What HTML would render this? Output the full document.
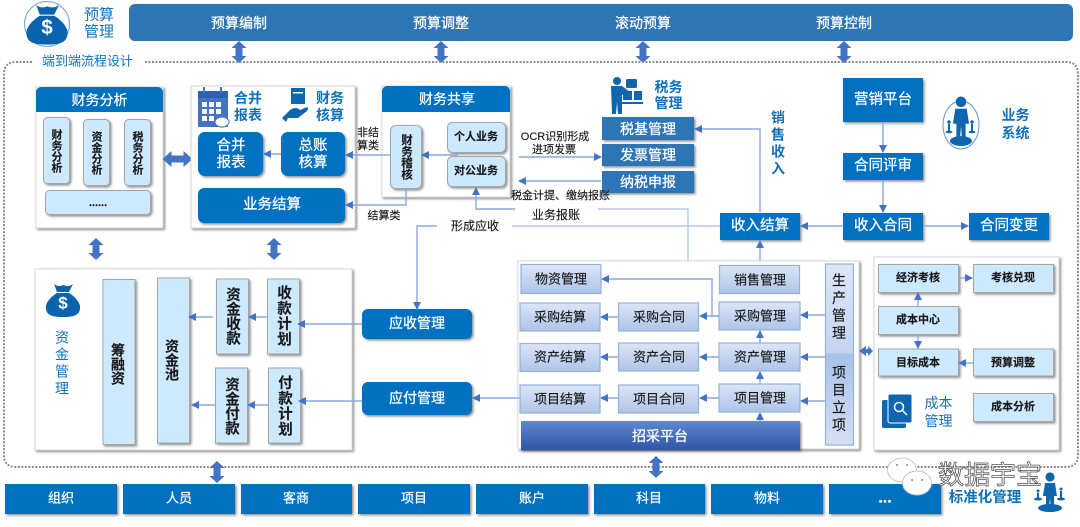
<!DOCTYPE html>
<html lang="zh"><head><meta charset="utf-8"><style>
html,body{margin:0;padding:0;background:#fff;width:1080px;height:527px;overflow:hidden}
svg{display:block}
text{font-family:"Liberation Sans","Noto Sans CJK SC",sans-serif;text-anchor:middle;dominant-baseline:central}
.w{fill:#fff;stroke:#fff;stroke-width:.25}.b{fill:#1a1a1a;stroke:#1a1a1a;stroke-width:.15}.c{fill:#0f71b9;font-weight:700}
.v{writing-mode:vertical-rl;dominant-baseline:auto}
.ln{stroke:#8aa8e0;stroke-width:1.4;fill:none;marker-end:url(#ar)}
.nl{stroke:#a6bce6;stroke-width:1.2;fill:none}
.lb{fill:#cce9ff;stroke:#a5a5a5;stroke-width:1}
.bl{fill:#0070c0}
.gr{fill:url(#g1);stroke:#93b2dc;stroke-width:1.2}
.wb{fill:#fff;stroke:#d8d8d8;stroke-width:1}
</style></head><body>
<svg width="1080" height="527" viewBox="0 0 1080 527" xmlns="http://www.w3.org/2000/svg">
<defs>
<marker id="ar" markerWidth="8" markerHeight="8" refX="7" refY="4" orient="auto" markerUnits="userSpaceOnUse"><path d="M0 0L8 4L0 8Z" fill="#4472c4"/></marker>
<linearGradient id="g1" x1="0" y1="0" x2="0" y2="1"><stop offset="0" stop-color="#dbe5f7"/><stop offset="1" stop-color="#aec4e8"/></linearGradient>
<linearGradient id="g2" x1="0" y1="0" x2="0" y2="1"><stop offset="0" stop-color="#5f88d0"/><stop offset="1" stop-color="#2f55a5"/></linearGradient>
<linearGradient id="g3" x1="0" y1="0" x2="0" y2="1"><stop offset="0" stop-color="#dce6f7"/><stop offset=".49" stop-color="#c4d4f0"/><stop offset=".5" stop-color="#a9c1e8"/><stop offset="1" stop-color="#d3dff5"/></linearGradient>
<filter id="s" x="-10%" y="-10%" width="125%" height="130%"><feDropShadow dx="1.5" dy="1.5" stdDeviation="1.2" flood-color="#000" flood-opacity=".45"/></filter>
<path id="dv" d="M0 -11L7.5 -4L3.5 -4L3.500 4L7.5 4L0 11L-7.5 4L-3.5 4L-3.5 -4L-7.5 -4Z" fill="#4472c4"/>
<path id="dh" d="M-15 0L-6 -8L-6 -3.5L6 -3.5L6 -8L15 0L6 8L6 3.5L-6 3.5L-6 8Z" fill="#4472c4"/>
<g id="bag"><path d="M-9 -15C-5 -12 -2 -13 0 -14C3 -13 6 -12 10 -15L6 -7L-6 -7Z M-6 -6L6 -6C14 -1 18 5 17 10C16 17 9 18 0 18C-9 18 -16 17 -17 10C-18 5 -14 -1 -6 -6Z" fill="#0a63ad"/><text y="4" font-size="17" font-weight="700" fill="#fff">$</text></g>
<g id="man"><circle cx="0" cy="-21" r="4.6" fill="#0f66ae"/><path d="M-5 -15L5 -15L7 -2L4 -2L4 13L1 13L0 0L-1 13L-4 13L-4 -2L-7 -2Z" fill="#0f66ae"/></g>
</defs>

<!-- top -->
<circle cx="47" cy="24" r="22.5" fill="#fff" stroke="#6fa6d6" stroke-width="1"/>
<use href="#bag" transform="translate(47 23) scale(1.2)"/>
<text x="99" y="15" font-size="15" class="c" style="font-weight:400">预算</text>
<text x="99" y="32" font-size="15" class="c" style="font-weight:400">管理</text>
<rect x="129" y="4" width="944" height="37" rx="6" fill="#2e75b6"/>
<text x="239" y="23" font-size="14" class="w">预算编制</text>
<text x="441" y="23" font-size="14" class="w">预算调整</text>
<text x="643" y="23" font-size="14" class="w">滚动预算</text>
<text x="844" y="23" font-size="14" class="w">预算控制</text>
<use href="#dv" x="239" y="52"/><use href="#dv" x="441" y="52"/><use href="#dv" x="643" y="52"/><use href="#dv" x="844" y="52"/>

<!-- dotted frame -->
<path d="M32 62L16 62Q4 62 4 74L4 455Q4 467 16 467L1066 467Q1078 467 1078 455L1078 74Q1078 62 1066 62L144 62" fill="none" stroke="#8c8c8c" stroke-width="2" stroke-dasharray="2 1.5"/>
<text x="87.500" y="61" font-size="13" class="c" style="font-weight:400">端到端流程设计</text>

<!-- 财务分析 -->
<rect x="36" y="87" width="127" height="141" class="wb" filter="url(#s)"/>
<path d="M36 112L36 93Q36 87 42 87L157 87Q163 87 163 93L163 112Z" class="bl"/>
<text x="99.500" y="100" font-size="14" class="w">财务分析</text>
<rect x="43.500" y="117.500" width="26" height="66" rx="4" class="lb" filter="url(#s)"/>
<rect x="83.500" y="119.500" width="26" height="66" rx="4" class="lb" filter="url(#s)"/>
<rect x="124.500" y="119.500" width="26" height="66" rx="4" class="lb" filter="url(#s)"/>
<rect x="45.500" y="190.500" width="105" height="24" rx="4" class="lb" filter="url(#s)"/>
<text x="56" y="151" font-size="11" class="b v" style="font-weight:700">财务分析</text>
<text x="96" y="153" font-size="11" class="b v" style="font-weight:700">资金分析</text>
<text x="137" y="153" font-size="11" class="b v" style="font-weight:700">税务分析</text>
<text x="98" y="203" font-size="11" class="b" style="font-weight:700">......</text>
<use href="#dh" x="177.500" y="159"/>
<use href="#dv" x="96" y="249"/>

<!-- 合并 box -->
<rect x="191" y="86" width="164" height="142" class="wb" filter="url(#s)"/>
<rect x="198" y="91" width="30" height="36" fill="#4472c4"/>
<rect x="198" y="91" width="30" height="7" fill="#2f5fb0"/>
<g fill="#fff"><rect x="202" y="102" width="5" height="5"/><rect x="209" y="102" width="5" height="5"/><rect x="216" y="102" width="5" height="5"/><rect x="202" y="109" width="5" height="5"/><rect x="209" y="109" width="5" height="5"/><rect x="216" y="109" width="5" height="5"/><rect x="202" y="116" width="5" height="5"/><rect x="209" y="116" width="5" height="5"/></g>
<rect x="203" y="87" width="2" height="6" fill="#4472c4"/><rect x="220" y="87" width="2" height="6" fill="#4472c4"/>
<ellipse cx="222" cy="122" rx="7" ry="5" fill="#fff" stroke="#4472c4"/>
<text x="248" y="98" font-size="14" class="c">合并</text>
<text x="248" y="115" font-size="14" class="c">报表</text>
<rect x="291" y="88" width="14" height="16" fill="#0f66ae"/><rect x="293" y="92" width="10" height="1.500" fill="#fff"/>
<path d="M282 118L290 110Q296 106 300 110L307 107Q309 108 307 111L298 118L288 118L286 122Z" fill="#0f66ae"/>
<text x="330" y="98" font-size="14" class="c">财务</text>
<text x="330" y="115" font-size="14" class="c">核算</text>
<rect x="198" y="132" width="65" height="44" rx="7" class="bl" filter="url(#s)"/>
<rect x="281" y="132" width="64" height="44" rx="7" class="bl" filter="url(#s)"/>
<rect x="198" y="188" width="147" height="35" rx="6" class="bl" filter="url(#s)"/>
<text x="231" y="146" font-size="14.500" class="w">合并</text><text x="231" y="163" font-size="14.500" class="w">报表</text>
<text x="313" y="146" font-size="14.500" class="w">总账</text><text x="313" y="163" font-size="14.500" class="w">核算</text>
<text x="272" y="205" font-size="14.500" class="w">业务结算</text>
<path d="M281 154L264 154" class="ln"/>
<use href="#dv" x="274" y="249"/>

<!-- 财务共享 -->
<rect x="382" y="86" width="128" height="111" class="wb" filter="url(#s)"/>
<path d="M382 112L382 92Q382 86 388 86L504 86Q510 86 510 92L510 112Z" class="bl"/>
<text x="447" y="99" font-size="14" class="w">财务共享</text>
<rect x="390.500" y="125.500" width="31" height="63" rx="5" class="lb" filter="url(#s)"/>
<rect x="447.500" y="122.500" width="58" height="30" rx="5" class="lb" filter="url(#s)"/>
<rect x="447.500" y="156.500" width="58" height="30" rx="5" class="lb" filter="url(#s)"/>
<text x="406" y="157" font-size="11.500" class="b v" style="font-weight:700">财务稽核</text>
<text x="476" y="137" font-size="11" class="b" style="font-weight:700">个人业务</text>
<text x="476" y="171" font-size="11" class="b" style="font-weight:700">对公业务</text>
<path d="M458 155L422 155" class="ln"/>
<path d="M390 155L346 155" class="ln"/>
<path d="M406 189L406 205L346 205" class="ln"/>
<text x="368" y="133" font-size="11" class="b">非结</text><text x="368" y="146" font-size="11" class="b">算类</text>
<text x="384" y="216" font-size="11" class="b">结算类</text>

<!-- 税务 -->
<circle cx="617" cy="81" r="4" fill="#0f66ae"/>
<path d="M611 86L622 86L630 92L622 95L622 114L618 114L617 102L616 114L612 114Z" fill="#0f66ae"/>
<rect x="626" y="79" width="11" height="9" rx="1.500" fill="#0f66ae"/><rect x="623" y="91" width="9" height="9" fill="#0f66ae"/><rect x="634" y="91" width="8" height="9" fill="#0f66ae"/><rect x="622" y="102" width="21" height="2" fill="#0f66ae"/>
<text x="668.500" y="87" font-size="14" class="c">税务</text><text x="668.500" y="103" font-size="14" class="c">管理</text>
<rect x="602" y="117" width="92" height="23" fill="#2e75b6" filter="url(#s)"/>
<rect x="602" y="144" width="92" height="22" fill="#2e75b6" filter="url(#s)"/>
<rect x="602" y="171" width="92" height="22" fill="#2e75b6" filter="url(#s)"/>
<text x="648" y="129" font-size="14" class="w">税基管理</text>
<text x="648" y="155" font-size="14" class="w">发票管理</text>
<text x="648" y="182" font-size="14" class="w">纳税申报</text>
<text x="555" y="137" font-size="11" class="b">OCR识别形成</text>
<text x="554" y="150" font-size="11" class="b">进项发票</text>
<path d="M519 157L601 157" class="ln"/>
<path d="M601 181L519 181" class="ln"/>
<text x="560.500" y="196" font-size="11" class="b">税金计提、缴纳报账</text>
<path d="M515 209L476 209L476 188" class="ln"/>
<path d="M598 209L688 209L688 262" class="nl"/>
<text x="556" y="215" font-size="12" class="b">业务报账</text>
<path d="M437 226L417 226L417 309" class="ln"/>
<path d="M512 226L720 226" class="nl"/>
<text x="475" y="226" font-size="12" class="b">形成应收</text>

<!-- sales -->
<path d="M760 212L760 129L695 129" class="ln"/>
<text x="778" y="110" font-size="14" class="c v" style="text-anchor:start;letter-spacing:3px">销售收入</text>
<rect x="843" y="78" width="80" height="44" class="bl" filter="url(#s)"/>
<rect x="843" y="153" width="80" height="27" class="bl" filter="url(#s)"/>
<rect x="843" y="213" width="80" height="27" class="bl" filter="url(#s)"/>
<rect x="720" y="213" width="80" height="27" class="bl" filter="url(#s)"/>
<rect x="969" y="213" width="80" height="27" class="bl" filter="url(#s)"/>
<text x="883" y="100" font-size="14.500" class="w">营销平台</text>
<text x="883" y="166" font-size="14.500" class="w">合同评审</text>
<text x="883" y="226" font-size="14.500" class="w">收入合同</text>
<text x="760" y="226" font-size="14.500" class="w">收入结算</text>
<text x="1009" y="226" font-size="14.500" class="w">合同变更</text>
<path d="M883 122L883 152" class="ln"/><path d="M883 180L883 212" class="ln"/>
<path d="M843 226L801 226" class="ln"/><path d="M923 226L968 226" class="ln"/>
<path d="M760 265L760 241" class="ln"/>
<ellipse cx="961" cy="125" rx="18" ry="24" fill="#fff" stroke="#5a9ad2"/>
<use href="#man" transform="translate(961 126) scale(1.15)"/>
<ellipse cx="961" cy="141" rx="11" ry="5" fill="#0f66ae"/>
<circle cx="949" cy="122" r="1.800" fill="#0f66ae"/><rect x="948" y="124" width="2" height="8" fill="#0f66ae"/><ellipse cx="949" cy="132" rx="3.500" ry="1.300" fill="#0f66ae"/>
<circle cx="972" cy="122" r="1.800" fill="#0f66ae"/><rect x="971" y="124" width="2" height="8" fill="#0f66ae"/><ellipse cx="972" cy="132" rx="3.500" ry="1.300" fill="#0f66ae"/>
<text x="1015.500" y="115" font-size="14" class="c">业务</text><text x="1015.500" y="133" font-size="14" class="c">系统</text>

<!-- 资金 -->
<rect x="35" y="269" width="317" height="181" class="wb" filter="url(#s)"/>
<use href="#bag" x="63" y="299"/>
<text x="62" y="330" font-size="14" class="c v" style="text-anchor:start;letter-spacing:3px;font-weight:400">资金管理</text>
<rect x="103" y="279.500" width="32" height="165" class="lb" filter="url(#s)"/>
<rect x="157.500" y="278" width="32" height="165" class="lb" filter="url(#s)"/>
<rect x="216.500" y="279" width="32" height="75" class="lb" filter="url(#s)"/>
<rect x="267.500" y="279" width="32" height="75" class="lb" filter="url(#s)"/>
<rect x="215.500" y="368" width="32" height="75" class="lb" filter="url(#s)"/>
<rect x="268.500" y="368" width="32" height="75" class="lb" filter="url(#s)"/>
<text x="118" y="364" font-size="14" class="b v" style="font-weight:700">筹融资</text>
<text x="172" y="360" font-size="14" class="b v" style="font-weight:700">资金池</text>
<text x="232" y="316" font-size="14.500" class="b v" style="font-weight:700">资金收款</text>
<text x="283" y="316" font-size="14.500" class="b v" style="font-weight:700;letter-spacing:1px">收款计划</text>
<text x="231" y="406" font-size="14.500" class="b v" style="font-weight:700">资金付款</text>
<text x="284" y="406" font-size="14.500" class="b v" style="font-weight:700;letter-spacing:1px">付款计划</text>
<path d="M213 317L189 317" class="ln"/><path d="M267 317L249 317" class="ln"/>
<path d="M362 324L298 324" class="ln"/>
<path d="M215 405L192 405" class="ln"/><path d="M268 405L248 405" class="ln"/>
<path d="M362 401L299 401" class="ln"/>
<rect x="362" y="309" width="110" height="30" rx="6" class="bl" filter="url(#s)"/>
<rect x="362" y="382" width="110" height="33" rx="6" class="bl" filter="url(#s)"/>
<text x="417" y="323" font-size="14" class="w">应收管理</text>
<text x="417" y="398" font-size="14" class="w">应付管理</text>

<!-- 采购 -->
<rect x="518" y="261" width="341" height="188" class="wb" filter="url(#s)"/>
<path d="M719 316L712 316L712 279L602 279" class="ln"/>
<path d="M719 316L700 316" class="ln"/><path d="M618 317L601 317" class="ln"/>
<path d="M719 357L700 357" class="ln"/><path d="M618 357L601 357" class="ln"/>
<path d="M719 398L700 398" class="ln"/><path d="M618 398L601 398" class="ln"/>
<path d="M760 343L760 331" class="ln"/><path d="M760 385L760 372" class="ln"/><path d="M760 421L760 413" class="ln"/>
<path d="M825 315L801 315" class="ln"/><path d="M825 357L801 357" class="ln"/><path d="M825 401L801 401" class="ln"/>
<path d="M520 398L473 398" class="ln"/>
<rect x="521" y="264.500" width="80" height="29" class="gr"/>
<rect x="719.500" y="265.500" width="80" height="28" class="gr"/>
<rect x="520" y="303" width="80" height="28" class="gr"/>
<rect x="618.500" y="303" width="80" height="28" class="gr"/>
<rect x="719" y="302" width="81" height="28" class="gr"/>
<rect x="520" y="343.500" width="80" height="28" class="gr"/>
<rect x="618.500" y="343" width="80" height="28" class="gr"/>
<rect x="719" y="343" width="81" height="28" class="gr"/>
<rect x="520" y="385" width="80" height="28" class="gr"/>
<rect x="618.500" y="385" width="80" height="28" class="gr"/>
<rect x="719" y="384" width="81" height="28" class="gr"/>
<text x="561" y="279" class="b" font-size="13">物资管理</text>
<text x="760" y="280" class="b" font-size="13">销售管理</text>
<text x="560" y="317" class="b" font-size="13">采购结算</text>
<text x="659" y="317" class="b" font-size="13">采购合同</text>
<text x="760" y="316" class="b" font-size="13">采购管理</text>
<text x="560" y="357" class="b" font-size="13">资产结算</text>
<text x="659" y="357" class="b" font-size="13">资产合同</text>
<text x="760" y="357" class="b" font-size="13">资产管理</text>
<text x="560" y="399" class="b" font-size="13">项目结算</text>
<text x="659" y="399" class="b" font-size="13">项目合同</text>
<text x="760" y="398" class="b" font-size="13">项目管理</text>
<rect x="521" y="421" width="279" height="29" fill="url(#g2)" filter="url(#s)"/>
<text x="660" y="436" font-size="14" class="w">招采平台</text>
<rect x="825.500" y="264" width="28" height="181" fill="url(#g3)" stroke="#93b2dc" stroke-width="1.200"/>
<text x="839" y="308" font-size="14" class="b v" style="letter-spacing:3.500px">生产管理</text>
<text x="839" y="400" font-size="14" class="b v" style="letter-spacing:3.500px">项目立项</text>

<!-- 成本 -->
<rect x="874" y="257" width="185" height="193" class="wb" filter="url(#s)"/>
<path d="M859 351L866 346L866 349L868 349L868 346L873 351L868 356L868 353L866 353L866 356Z" fill="#4472c4"/>
<rect x="878.500" y="264.500" width="80" height="28" class="lb" filter="url(#s)"/>
<rect x="973.500" y="264.500" width="80" height="28" class="lb" filter="url(#s)"/>
<rect x="878.500" y="306.500" width="80" height="28" class="lb" filter="url(#s)"/>
<rect x="878.500" y="349" width="80" height="27" class="lb" filter="url(#s)"/>
<rect x="973.500" y="349" width="80" height="27" class="lb" filter="url(#s)"/>
<rect x="973.500" y="393.500" width="80" height="28" class="lb" filter="url(#s)"/>
<text x="918" y="278" font-size="11" class="b" style="font-weight:700">经济考核</text>
<text x="1013" y="278" font-size="11" class="b" style="font-weight:700">考核兑现</text>
<text x="918" y="320" font-size="11" class="b" style="font-weight:700">成本中心</text>
<text x="918" y="363" font-size="11" class="b" style="font-weight:700">目标成本</text>
<text x="1013" y="363" font-size="11" class="b" style="font-weight:700">预算调整</text>
<text x="1013" y="407" font-size="11" class="b" style="font-weight:700">成本分析</text>
<path d="M958 278L972 278" class="ln"/><path d="M918 306L918 293" class="ln"/><path d="M918 335L918 348" class="ln"/><path d="M973 363L959 363" class="ln"/>
<rect x="882" y="400" width="24" height="28" rx="2" fill="#0f66ae"/>
<rect x="888" y="394" width="24" height="29" rx="2" fill="#0f66ae" stroke="#fff"/>
<circle cx="899" cy="407" r="4.500" fill="none" stroke="#fff" stroke-width="1.500"/><path d="M902 410L907 415" stroke="#fff" stroke-width="1.500"/>
<text x="938.500" y="403" font-size="14" class="c" style="font-weight:400">成本</text><text x="938.500" y="421" font-size="14" class="c" style="font-weight:400">管理</text>

<!-- bottom -->
<use href="#dv" x="217" y="472"/><use href="#dv" x="656" y="467"/>
<g fill="#0070c0" filter="url(#s)">
<rect x="5" y="484" width="112" height="30"/><rect x="123" y="484" width="112" height="30"/><rect x="241" y="484" width="111" height="30"/><rect x="358" y="484" width="112" height="30"/><rect x="476" y="484" width="112" height="30"/><rect x="594" y="484" width="111" height="30"/><rect x="711" y="484" width="112" height="30"/><rect x="829" y="484" width="112" height="30"/>
</g>
<text x="61" y="498" font-size="13" class="w">组织</text>
<text x="179" y="498" font-size="13" class="w">人员</text>
<text x="296" y="498" font-size="13" class="w">客商</text>
<text x="414" y="498" font-size="13" class="w">项目</text>
<text x="532" y="498" font-size="13" class="w">账户</text>
<text x="649" y="498" font-size="13" class="w">科目</text>
<text x="767" y="498" font-size="13" class="w">物料</text>
<text x="885" y="498" font-size="16" class="w" style="font-weight:700">...</text>

<!-- watermark -->
<ellipse cx="902" cy="470" rx="14.500" ry="12" fill="#fff" stroke="#c4c4c4"/>
<ellipse cx="917" cy="483" rx="14.500" ry="12" fill="#fff" stroke="#c4c4c4"/>
<circle cx="912" cy="480" r="1" fill="#888"/><circle cx="922" cy="480" r="1" fill="#888"/>
<circle cx="897" cy="465" r="1" fill="#888"/><circle cx="907" cy="465" r="1" fill="#888"/>
<text x="990" y="475" font-size="26" fill="#fff" stroke="#555" stroke-width=".8">数据宇宝</text>
<text x="985" y="498" font-size="14.500" class="c">标准化管理</text>
<use href="#man" x="1050" y="498"/>
<ellipse cx="1050" cy="508" rx="12" ry="4" fill="#0f66ae"/>
<circle cx="1038" cy="491" r="1.500" fill="#0f66ae"/><rect x="1037" y="493" width="2" height="6" fill="#0f66ae"/><ellipse cx="1038" cy="499" rx="4" ry="1.500" fill="#0f66ae"/>
<circle cx="1061" cy="489" r="1.500" fill="#0f66ae"/><rect x="1060" y="491" width="2" height="8" fill="#0f66ae"/><ellipse cx="1061" cy="499" rx="4" ry="1.500" fill="#0f66ae"/>
</svg>
</body></html>
